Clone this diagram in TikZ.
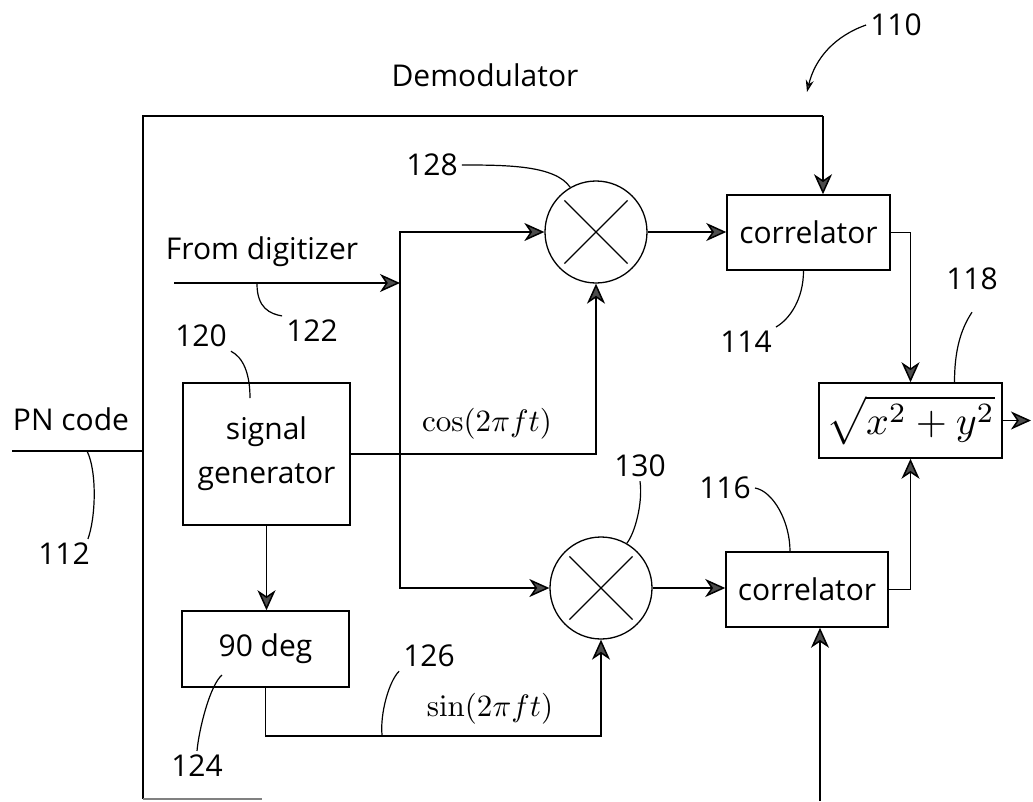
\documentclass[tikz,border=0pt]{standalone}
\usepackage[no-math]{fontspec}
\setmainfont{Open Sans}
\usetikzlibrary{arrows.meta,calc}
\begin{document}
\begin{tikzpicture}[x=1pt,y=-1pt,
  wire/.style={line width=1.5pt},
  flow/.style={wire,-{Stealth[length=20pt,width=18pt,inset=6pt,fill=black!70]}},
  leader/.style={line width=1.2pt},
  block/.style={draw,line width=1.5pt,inner sep=0pt,font=\fontsize{30}{36}\selectfont},
  mixer/.style={draw,circle,line width=1.3pt,minimum size=102pt,inner sep=0pt},
  lbl/.style={font=\fontsize{30}{36}\selectfont,inner sep=4pt},
  mathlbl/.style={font=\fontsize{10}{12}\selectfont,inner sep=0pt}]
\useasboundingbox (0,0) rectangle (1033,801);

% functional blocks
\node[block,minimum width=167pt,minimum height=142pt,align=center,
      font=\fontsize{30}{44}\selectfont] (sig) at (266.5,454) {signal\\generator};
\node[block,minimum width=167pt,minimum height=76pt] (deg) at (265.5,649) {90 deg};
\node[block,minimum width=163pt,minimum height=75pt] (corA) at (808.5,232.5) {correlator};
\node[block,minimum width=162pt,minimum height=75pt] (corB) at (807,589.5) {correlator};
\node[block,minimum width=183pt,minimum height=75pt,font=\fontsize{10}{12}\selectfont]
  (mag) at (910.5,420.5) {\scalebox{4}{$\sqrt{x^2+y^2}$}};

% mixers
\node[mixer] (mulA) at (596,232) {};
\node[mixer] (mulB) at (601,588) {};
\foreach \m in {mulA,mulB}{
  \draw[line width=1.3pt,shorten <=7pt,shorten >=7pt] (\m.north west) -- (\m.south east);
  \draw[line width=1.3pt,shorten <=7pt,shorten >=7pt] (\m.north east) -- (\m.south west);
}

% signal texts
\node[lbl] (title) at (485,75) {Demodulator};
\node[lbl] (tPN) at (71,419) {PN code};
\node[lbl] (tDig) at (262,252) {From digitizer};
\node[mathlbl] (tCos) at (487,424) {\scalebox{3.1}{$\cos(2\pi ft)$}};
\node[mathlbl] (tSin) at (490,709) {\scalebox{3.1}{$\sin(2\pi ft)$}};

% reference numerals
\node[lbl] (n110) at (896,25) {110};
\node[lbl] (n128) at (432,165) {128};
\node[lbl] (n122) at (312,331) {122};
\node[lbl] (n120) at (201,336) {120};
\node[lbl] (n112) at (64,554) {112};
\node[lbl] (n114) at (746,342) {114};
\node[lbl] (n118) at (972,279) {118};
\node[lbl] (n130) at (640,466) {130};
\node[lbl] (n116) at (725,488) {116};
\node[lbl] (n126) at (429,656) {126};
\node[lbl] (n124) at (197,766) {124};

% routing points
\coordinate (pnIn) at (12,451);
\coordinate (frameL) at (143,451);
\coordinate (frameTL) at (143,116);
\coordinate (frameBL) at (143,799);
\coordinate (frameBR) at (262,799);
\coordinate (topR) at (823,116);
\coordinate (pnBot) at (820,801);
\coordinate (digIn) at (174,283);
\coordinate (split) at (400,283);
\coordinate (out) at (1031,420.5);
\coordinate (p110) at (807,92);
\coordinate (c122) at (257,284);
\coordinate (c120) at (250,398);
\coordinate (c112) at (87,451);
\coordinate (c126) at (382,735);
\coordinate (c124) at (222,675);

% PN code path around the demodulator
\draw[wire] (pnIn) -- (frameL);
\draw[wire] (frameBL) -- (frameTL) -- (topR);
\draw[flow] (topR) -- (topR |- corA.north);
\draw[wire,black!50] (frameBL) -- (frameBR);
\draw[flow] (pnBot) -- (pnBot |- corB.south);

% signal paths
\draw[flow] (digIn) -- (split);
\draw[flow] (split) |- (mulA.west);
\draw[flow] (split) |- (mulB.west);
\draw[flow] (sig.east) -| (mulA.south);
\draw[flow] (sig.south) -- (sig.south |- deg.north);
\draw[flow] (deg.south) -- ++(0,48) -| (mulB.south);
\draw[flow] (mulA.east) -- (mulA.east -| corA.west);
\draw[flow] (mulB.east) -- (mulB.east -| corB.west);
\draw[flow] (corA.east) -| (mag.north);
\draw[flow] (corB.east) -| (mag.south);
\draw[flow] (mag.east) -- (out);

% leader lines
\draw[leader,-{Stealth[length=12pt,width=8pt,fill=black!70]}]
  (n110.west) .. controls (835,36) and (815,58) .. (p110);
\draw[leader] (n128.east) .. controls +(45,0) and +(-15,-22) .. (mulA.120);
\draw[leader] (c122) .. controls +(0,24) and +(-12,-2) .. (n122.north west);
\draw[leader] (n120.south east) .. controls +(12,6) and +(0,-25) .. (c120);
\draw[leader] (c112) .. controls +(10,20) and +(8,-22) .. ([xshift=-6pt]n112.north east);
\draw[leader] (n114.north east) .. controls +(14,-8) and +(0,28) .. ([xshift=-5pt]corA.south);
\draw[leader] ([yshift=-18pt]n118.south) .. controls +(-12,18) and +(0,-30) .. ([xshift=44pt]mag.north);
\draw[leader] (n130.south) .. controls +(3,22) and +(8,-10) .. (mulB.60);
\draw[leader] (n116.east) .. controls +(18,3) and +(0,-30) .. ([xshift=-17pt]corB.north);
\draw[leader] (n126.south west) .. controls +(-10,10) and +(-2,-22) .. (c126);
\draw[leader] (c124) .. controls +(-12,10) and +(2,-22) .. (n124.north);
\end{tikzpicture}
\end{document}
